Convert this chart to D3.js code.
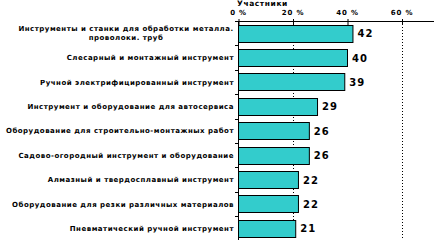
<!DOCTYPE html>
<html>
<head>
<meta charset="utf-8">
<script src="https://cdn.jsdelivr.net/npm/d3@7"></script>
<style>
  body { margin: 0; background: #fff; }
</style>
</head>
<body>
<script>
const width = 434;
const height = 240;

const categories = [
  ["Инструменты и станки для обработки металла.", "проволоки. труб"],
  ["Слесарный и монтажный инструмент"],
  ["Ручной электрифицированный инструмент"],
  ["Инструмент и оборудование для автосервиса"],
  ["Оборудование для строительно-монтажных работ"],
  ["Садово-огородный инструмент  и оборудование"],
  ["Алмазный и твердосплавный инструмент"],
  ["Оборудование для резки различных материалов"],
  ["Пневматический ручной инструмент"]
];
const values = [42, 40, 39, 29, 26, 26, 22, 22, 21];
const tickValues = [0, 20, 40, 60];
const gridValues = [20, 60];
const axisTitle = "Участники";

const margin = { top: 21, left: 238, right: 0, bottom: 0 };

const svg = d3
  .select("body")
  .append("svg")
  .attr("width", width)
  .attr("height", height)
  .style("font-family", "'DejaVu Sans', Verdana, sans-serif");

const x = d3.scaleLinear().domain([0, 80]).range([margin.left, margin.left + 218]);

const y = d3
  .scaleBand()
  .domain(d3.range(values.length))
  .range([margin.top, margin.top + 9 * 24.4])
  .paddingInner(0.3)
  .paddingOuter(0.15);

// gridlines
svg.append("g")
  .selectAll("line")
  .data(gridValues)
  .join("line")
  .attr("x1", (d) => Math.round(x(d)) + 0.5)
  .attr("x2", (d) => Math.round(x(d)) + 0.5)
  .attr("y1", margin.top)
  .attr("y2", height)
  .attr("stroke", "#000")
  .attr("stroke-width", 1)
  .attr("stroke-dasharray", "1,2");

// top axis
const xAxis = d3
  .axisTop(x)
  .tickValues(tickValues)
  .tickSize(4)
  .tickFormat((d) => `${d} %`);

const gx = svg.append("g")
  .attr("transform", `translate(0,${margin.top})`)
  .call(xAxis);
gx.select(".domain").attr("d", `M${margin.left},0.5H${width}`);
gx.selectAll(".tick line").attr("y2", 4).attr("y1", -2).attr("transform", "translate(0.5,0)");
gx.selectAll(".tick text")
  .attr("y", -6)
  .attr("font-family", "'DejaVu Sans', Verdana, sans-serif")
  .attr("font-size", 7)
  .attr("font-weight", "bold")
  .attr("letter-spacing", 0.8)
  .attr("fill", "#000");

svg.append("text")
  .attr("x", margin.left - 1)
  .attr("y", 6)
  .attr("font-size", 7.5)
  .attr("font-weight", "bold")
  .attr("letter-spacing", 0.6)
  .text(axisTitle);

// left axis line and band ticks
svg.append("line")
  .attr("x1", margin.left + 0.5)
  .attr("x2", margin.left + 0.5)
  .attr("y1", margin.top)
  .attr("y2", height)
  .attr("stroke", "#000");

const step = y.step();
svg.append("g")
  .selectAll("line")
  .data(d3.range(values.length + 1))
  .join("line")
  .attr("x1", margin.left - 3)
  .attr("x2", margin.left)
  .attr("y1", (i) => Math.round(y.range()[0] + i * step) + 0.5)
  .attr("y2", (i) => Math.round(y.range()[0] + i * step) + 0.5)
  .attr("stroke", "#000");

// bars
svg.append("g")
  .selectAll("rect")
  .data(values)
  .join("rect")
  .attr("x", x(0) + 0.5)
  .attr("y", (d, i) => Math.round(y(i)) + 0.5)
  .attr("width", (d) => x(d) - x(0))
  .attr("height", Math.round(y.bandwidth()))
  .attr("fill", "#33CCCC")
  .attr("stroke", "#000")
  .attr("stroke-width", 1);

// value labels
svg.append("g")
  .selectAll("text")
  .data(values)
  .join("text")
  .attr("x", (d) => x(d) + 5)
  .attr("y", (d, i) => y(i) + y.bandwidth() / 2 + 4)
  .attr("font-size", 10)
  .attr("font-weight", "bold")
  .attr("letter-spacing", 1)
  .text((d) => d);

// category labels
const labels = svg.append("g")
  .selectAll("text")
  .data(categories)
  .join("text")
  .attr("font-size", 7)
  .attr("font-weight", "bold")
  .attr("letter-spacing", 0.5)
  .attr("y", (d, i) => y(i) + y.bandwidth() / 2 + 2.5 - (d.length - 1) * 4.5);

labels.each(function (d) {
  const t = d3.select(this);
  d.forEach((line, j) => {
    t.append("tspan")
      .attr("x", d.length > 1 ? 126 : margin.left - 4)
      .attr("text-anchor", d.length > 1 ? "middle" : "end")
      .attr("dy", j === 0 ? 0 : 9)
      .text(line);
  });
});
</script>
</body>
</html>
